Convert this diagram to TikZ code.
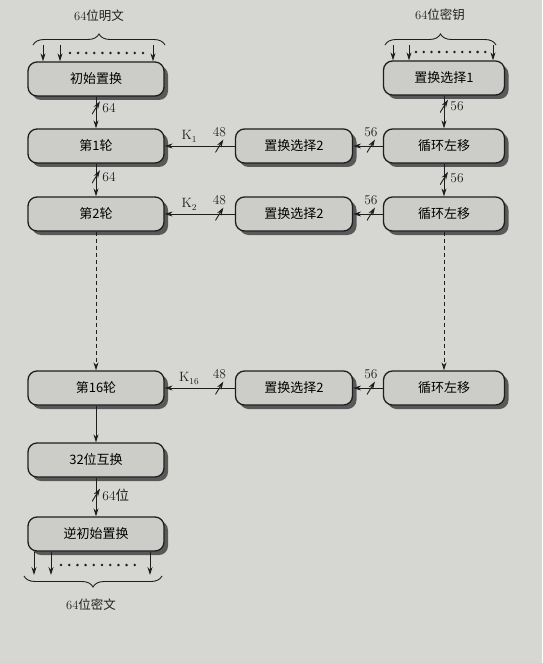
\documentclass[tikz,border=0pt]{standalone}
\usepackage{fontspec}
\newfontfamily\cjk{Noto Sans CJK SC}
\usetikzlibrary{arrows.meta,shadows,decorations.pathreplacing}
\definecolor{paper}{RGB}{214,214,210}
\definecolor{boxfill}{RGB}{204,204,200}
\definecolor{ink}{RGB}{30,30,30}

\begin{document}
\begin{tikzpicture}[x=1pt,y=-1pt,
    stage/.style ={draw=ink, line width=1.3pt, rounded corners=9pt, fill=boxfill,
      minimum height=34pt, inner sep=0pt, font=\cjk\fontsize{13}{15}\selectfont,
      drop shadow={shadow xshift=4pt, shadow yshift=-4pt, fill=black!70, opacity=.9}},
    leftbox/.style ={stage, minimum width=136pt},
    midbox/.style ={stage, minimum width=117pt},
    rightbox/.style ={stage, minimum width=121pt},
    link/.style ={draw=ink, line width=.9pt, -{Stealth[length=8pt,width=5pt]}},
    busmark/.style ={inner sep=0pt, minimum width=8pt, minimum height=13pt,
      path picture={\draw[ink, line width=.9pt] (path picture bounding box.south west) -- (path picture bounding box.north east);}},
    buslabel/.style ={font=\fontsize{13.5}{15}\selectfont, text=ink, inner sep=1.5pt},
    toplabel/.style ={font=\fontsize{12.5}{14}\selectfont, text=ink},
    bracket/.style ={draw=ink, line width=.9pt, decorate, decoration={brace, amplitude=11pt}}]
   \fill[paper] (0,0) rectangle (542,663);
   \useasboundingbox (0,0) rectangle (542,663);

   \node[leftbox] (init) at (96,79)  {初始置换};
   \node[leftbox] (r1)   at (96,146) {第1轮};
   \node[leftbox] (r2)   at (96,214) {第2轮};
   \node[leftbox] (r16)  at (96,388) {第16轮};
   \node[leftbox] (swap) at (96,460) {32位互换};
   \node[leftbox] (inv)  at (96,534) {逆初始置换};

   \node[midbox] (pca) at (294,146) {置换选择2};
   \node[midbox] (pcb) at (294,214) {置换选择2};
   \node[midbox] (pcc) at (294,388) {置换选择2};

   \node[rightbox] (pc1) at (444,78)  {置换选择1};
   \node[rightbox] (lsa) at (444,146) {循环左移};
   \node[rightbox] (lsb) at (444,214) {循环左移};
   \node[rightbox] (lsc) at (444,388) {循环左移};

   \node[toplabel] (plain) at (99,16)  {64{\cjk 位明文}};
   \node[toplabel] (key)   at (440,15) {64{\cjk 位密钥}};
   \node[toplabel] (ciph)  at (91,605) {64{\cjk 位密文}};

   \draw[bracket] (33,45) -- (165,45);
   \draw[bracket] (385,45) -- (496,45);
   \draw[bracket] (162,576) -- (24,576);

   \foreach \x [count=\i] in {43,60,153} \coordinate (pin\i) at (\x,45);
   \foreach \x [count=\i] in {393,409,493} \coordinate (kin\i) at (\x,45);
   \foreach \x [count=\i] in {34,51,150} \coordinate (cout\i) at (\x,575);
   \foreach \i in {1,2,3} {
     \draw[link] (pin\i) -- (pin\i |- init.north);
     \draw[link] (kin\i) -- (kin\i |- pc1.north);
     \draw[link] (cout\i |- inv.south) -- (cout\i);
   }
   \foreach \k in {0,...,9} {
     \fill[ink] (70+\k*8.1,53) circle (1.4pt);
     \fill[ink] (416+\k*7.7,52) circle (1.4pt);
     \fill[ink] (61+\k*8.2,565) circle (1.4pt);
   }

   \draw[link] (init) -- node[busmark, pos=.35, label={[buslabel]east:64}] {} (r1);
   \draw[link] (r1) -- node[busmark, pos=.4, label={[buslabel]east:64}] {} (r2);
   \draw[link, dash pattern=on 4pt off 3pt] (r2) -- (r16);
   \draw[link] (r16) -- (swap);
   \draw[link] (swap) -- node[busmark, pos=.45, label={[buslabel]east:64{\cjk 位}}] {} (inv);

   \draw[link] (pc1) -- node[busmark, pos=.32, label={[buslabel]east:56}] {} (lsa);
   \draw[link] (lsa) -- node[busmark, pos=.45, label={[buslabel]east:56}] {} (lsb);
   \draw[link, dash pattern=on 4pt off 3pt] (lsb) -- (lsc);

   \draw[link] (lsa) -- node[busmark, pos=.4, label={[buslabel]north:56}] {} (pca);
   \draw[link] (lsb) -- node[busmark, pos=.4, label={[buslabel]north:56}] {} (pcb);
   \draw[link] (lsc) -- node[busmark, pos=.4, label={[buslabel]north:56}] {} (pcc);

   \draw[link] (pca) -- node[busmark, pos=.22, label={[buslabel]north:48}] {}
     node[buslabel, pos=.65, above=2pt] {K$_1$} (r1);
   \draw[link] (pcb) -- node[busmark, pos=.22, label={[buslabel]north:48}] {}
     node[buslabel, pos=.65, above=2pt] {K$_2$} (r2);
   \draw[link] (pcc) -- node[busmark, pos=.22, label={[buslabel]north:48}] {}
     node[buslabel, pos=.65, above=2pt] {K$_{16}$} (r16);
 \end{tikzpicture}
\end{document}
